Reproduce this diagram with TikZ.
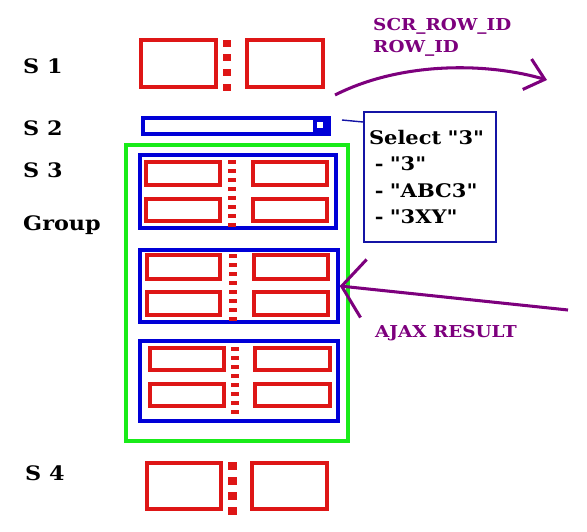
\documentclass[tikz,border=0pt]{standalone}
\usepackage{fontspec}
\setmainfont{DejaVu Serif}[FakeStretch=1.12, Ligatures=TeXOff]
\usepackage{xcolor}
\usetikzlibrary{positioning,fit,arrows.meta}
\definecolor{boxred}{RGB}{222,22,22}
\definecolor{grpblue}{RGB}{0,0,215}
\definecolor{selblue}{RGB}{20,20,165}
\definecolor{grpgreen}{RGB}{25,235,25}
\definecolor{notepurple}{RGB}{125,0,125}
\tikzset{
    rowlbl/.style={
        anchor=base west,
        inner sep=0pt,
        font=\fontsize{17}{20}\selectfont\bfseries
    },
    notelbl/.style={
        anchor=base west,
        inner sep=0pt,
        text=notepurple,
        font=\fontsize{14}{17}\selectfont\bfseries
    },
    cellbig/.style={
        rectangle,
        draw=boxred,
        line width=3.4pt,
        inner sep=0pt
    },
    cell/.style={
        rectangle,
        draw=boxred,
        line width=2.6pt,
        inner sep=0pt
    },
    grpbox/.style={
        rectangle,
        draw=grpblue,
        line width=3pt,
        inner sep=0pt
    },
    grpframe/.style={
        rectangle,
        draw=grpgreen,
        line width=3.4pt,
        inner sep=0pt
    },
    bar/.style={
        rectangle,
        draw=grpblue,
        line width=3.4pt,
        inner sep=0pt
    },
    selbox/.style={
        rectangle,
        draw=selblue,
        line width=1.7pt,
        align=left,
        text width=3.66cm,
        minimum width=3.96cm,
        minimum height=3.9cm,
        inner xsep=0.15cm,
        font=\fontsize{16}{22.4}\selectfont\bfseries
    },
    note/.style={
        draw=notepurple,
        line width=2.6pt
    }
}

\begin{document}
\begin{tikzpicture}[x=0.03cm, y=-0.03cm]
    \useasboundingbox (0,0) rectangle (587,532);
    % row labels
    \node[rowlbl] (lbls1) at (23,73) {S 1};
    \node[rowlbl] (lbls2) at (23,135) {S 2};
    \node[rowlbl] (lbls3) at (23,177) {S 3};
    \node[rowlbl] (lblgrp) at (23,230) {Group};
    \node[rowlbl] (lbls4) at (25,480) {S 4};

    % S 1
    \node[cellbig, fit={(141,40) (216,87)}] (s1a) {};
    \node[cellbig, fit={(247,40) (323,87)}] (s1b) {};
    \foreach \y in {40,54,69,84}
        \fill[boxred] (223,\y) rectangle (231,\y+7);

    % S 2 bar
    \node[bar, fit={(143,118) (329,134)}] (s2) {};
    \fill[grpblue] (313,116) rectangle (331,136);
    \fill[white] (317,122) rectangle (323,128);

    % S 3 group
    \node[grpframe, fit={(126,145) (348,441)}] (grp) {};
    \node[grpbox, fit={(140,155) (336,228)}] (g1) {};
    \node[grpbox, fit={(140,250) (338,322)}] (g2) {};
    \node[grpbox, fit={(140,341) (338,421)}] (g3) {};

    \node[cell, fit={(146,162) (220,185)}] (g1a) {};
    \node[cell, fit={(146,199) (220,221)}] (g1b) {};
    \node[cell, fit={(253,162) (327,185)}] (g1c) {};
    \node[cell, fit={(253,199) (327,221)}] (g1d) {};
    \foreach \k in {0,...,7}
        \fill[boxred] (228,160+9*\k) rectangle (236,164+9*\k);

    \node[cell, fit={(147,255) (220,279)}] (g2a) {};
    \node[cell, fit={(147,292) (220,315)}] (g2b) {};
    \node[cell, fit={(254,255) (328,279)}] (g2c) {};
    \node[cell, fit={(254,292) (328,315)}] (g2d) {};
    \foreach \k in {0,...,7}
        \fill[boxred] (229,254+9*\k) rectangle (237,258+9*\k);

    \node[cell, fit={(150,348) (224,370)}] (g3a) {};
    \node[cell, fit={(150,384) (224,406)}] (g3b) {};
    \node[cell, fit={(255,348) (330,370)}] (g3c) {};
    \node[cell, fit={(255,384) (330,406)}] (g3d) {};
    \foreach \k in {0,...,7}
        \fill[boxred] (231,347+9*\k) rectangle (239,351+9*\k);

    % S 4
    \node[cellbig, fit={(147,463) (221,509)}] (s4a) {};
    \node[cellbig, fit={(252,463) (327,509)}] (s4b) {};
    \foreach \y in {462,477,492,507}
        \fill[boxred] (228,\y) rectangle (237,\y+8);

    % select list
    \node[selbox, anchor=north west] (sel) at (363,111)
        {Select "3"\\\hspace*{5pt}- "3"\\\hspace*{5pt}- "ABC3"\\\hspace*{5pt}- "3XY"};
    \draw[selblue, line width=1.2pt] ([xshift=0.33cm, yshift=0.18cm]s2.east) -- ([yshift=-0.33cm]sel.north west);

    % notes
    \node[notelbl] (scrid) at (373,30) {SCR\_ROW\_ID};
    \node[notelbl] (rowid) at (373,52) {ROW\_ID};
    \coordinate (curvestart) at (335,95);
    \coordinate (curvetip) at (547,80);
    \draw[note, -{Straight Barb[length=0.55cm, width=0.95cm]}] (curvestart) .. controls (400,62) and (485,62) .. (curvetip);

    \node[notelbl] (ajax) at (375,337) {AJAX RESULT};
    \coordinate (ajaxtail) at (568,310);
    \draw[note, -{Straight Barb[length=0.66cm, width=1.75cm]}] (ajaxtail) -- (g2.east);
\end{tikzpicture}
\end{document}
